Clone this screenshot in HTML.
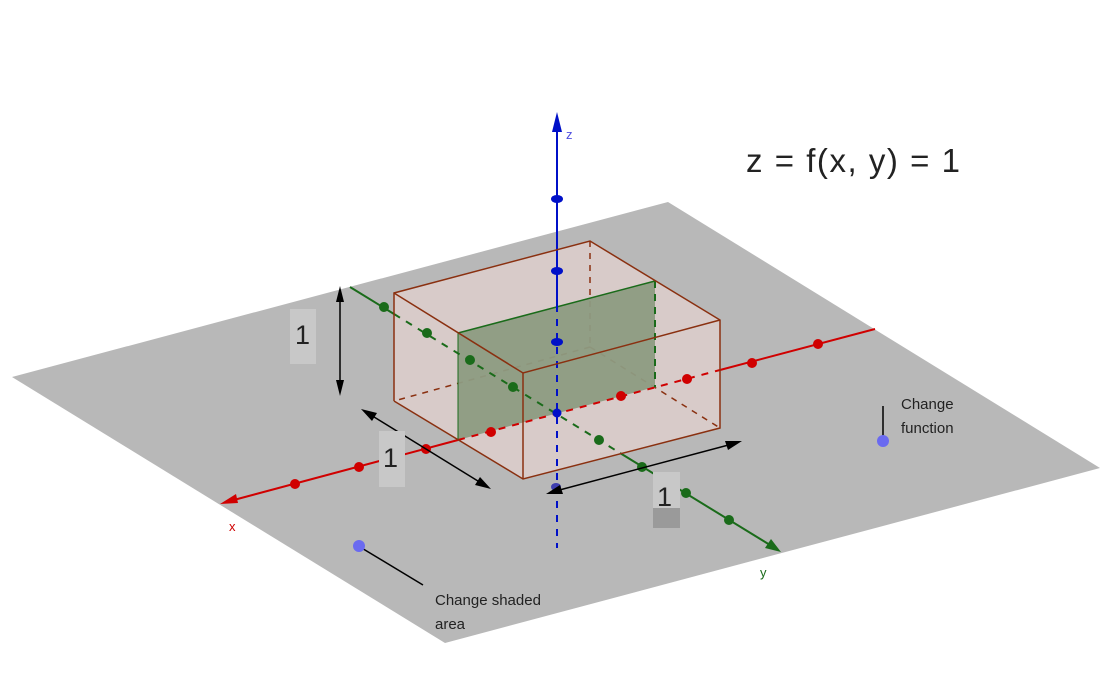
<!DOCTYPE html>
<html><head><meta charset="utf-8"><style>
html,body{margin:0;padding:0;background:#fff;width:1114px;height:677px;overflow:hidden}
svg{display:block}
</style></head><body>
<svg width="1114" height="677" viewBox="0 0 1114 677" xmlns="http://www.w3.org/2000/svg" font-family="Liberation Sans, sans-serif">
<polygon points="12,377 668,202 1100,468 445,643" fill="#b8b8b8"/>
<polygon points="394,293 590,241 720,320 720,428 523,479 394,401" fill="#d8cbc9"/>
<g stroke="#8a3010" stroke-width="1.5" stroke-dasharray="6,6" fill="none">
<line x1="590" y1="241" x2="590" y2="347"/>
<line x1="590" y1="347" x2="394" y2="401"/>
<line x1="590" y1="347" x2="720" y2="428"/>
</g>
<polygon points="458,333 655,281 655,387 458,440" fill="#8d9b82" opacity="0.95"/>
<line x1="458" y1="333" x2="655" y2="281" stroke="#1a6b1a" stroke-width="1.5"/>
<line x1="655" y1="281" x2="655" y2="387" stroke="#1a6b1a" stroke-width="2" stroke-dasharray="7,6"/>
<line x1="458" y1="333" x2="458" y2="440" stroke="#1a6b1a" stroke-width="1"/>
<line x1="230" y1="501" x2="458" y2="440" stroke="#d00000" stroke-width="2"/>
<line x1="458" y1="440" x2="720" y2="370" stroke="#d00000" stroke-width="2" stroke-dasharray="7,7"/>
<line x1="720" y1="370" x2="875" y2="329" stroke="#d00000" stroke-width="2"/>
<polygon points="220,504 236,494 238,503" fill="#d00000"/>
<line x1="350" y1="287" x2="394" y2="314" stroke="#1a6b1a" stroke-width="2"/>
<line x1="394" y1="314" x2="620" y2="453" stroke="#1a6b1a" stroke-width="2" stroke-dasharray="7,7"/>
<line x1="620" y1="453" x2="770" y2="545" stroke="#1a6b1a" stroke-width="2"/>
<polygon points="781,552 765,548 771,539" fill="#1a6b1a"/>
<line x1="557" y1="128" x2="557" y2="305" stroke="#0010c8" stroke-width="2"/>
<line x1="557" y1="305" x2="557" y2="548" stroke="#0010c8" stroke-width="2" stroke-dasharray="7,7"/>
<polygon points="557,112 552,132 562,132" fill="#0010c8"/>
<text x="566" y="139" font-size="13" fill="#5050e0">z</text>
<text x="229" y="531" font-size="13" fill="#d00000">x</text>
<text x="760" y="577" font-size="13" fill="#1a6b1a">y</text>
<g stroke="#8a3010" stroke-width="1.5" fill="none">
<polyline points="394,401 394,293 590,241 720,320 720,428 523,479 394,401"/>
<polyline points="394,293 523,373 720,320"/>
<line x1="523" y1="373" x2="523" y2="479"/>
</g>
<g fill="#d00000">
<circle cx="295" cy="484" r="5"/><circle cx="359" cy="467" r="5"/><circle cx="426" cy="449" r="5"/><circle cx="491" cy="432" r="5"/><circle cx="621" cy="396" r="5"/><circle cx="687" cy="379" r="5"/><circle cx="752" cy="363" r="5"/><circle cx="818" cy="344" r="5"/>
</g>
<g fill="#1a6b1a">
<circle cx="384" cy="307" r="5"/><circle cx="427" cy="333" r="5"/><circle cx="470" cy="360" r="5"/><circle cx="513" cy="387" r="5"/><circle cx="599" cy="440" r="5"/><circle cx="642" cy="467" r="5"/><circle cx="686" cy="493" r="5"/><circle cx="729" cy="520" r="5"/>
</g>
<g fill="#0010c8">
<ellipse cx="557" cy="199" rx="6" ry="4"/><ellipse cx="557" cy="271" rx="6" ry="4"/><ellipse cx="557" cy="342" rx="6" ry="4"/><circle cx="557" cy="413" r="4.5"/>
</g>
<ellipse cx="556" cy="487" rx="5" ry="4" fill="#4040b0"/>
<g stroke="#000" stroke-width="1.5">
<line x1="340" y1="292" x2="340" y2="392"/>
<line x1="366" y1="412" x2="486" y2="486"/>
<line x1="552" y1="492" x2="736" y2="443"/>
</g>
<g fill="#000">
<polygon points="340,286 336,302 344,302"/><polygon points="340,396 336,380 344,380"/>
<polygon points="361,409 377,413 372,421"/><polygon points="491,489 475,485 480,477"/>
<polygon points="546,494 560,485 563,494"/><polygon points="742,441 728,450 725,441"/>
</g>
<rect x="290" y="309" width="26" height="55" fill="#c8c8c8"/>
<text x="295" y="344" font-size="27" fill="#222">1</text>
<rect x="379" y="431" width="26" height="56" fill="#c8c8c8"/>
<text x="383" y="467" font-size="27" fill="#222">1</text>
<rect x="653" y="472" width="27" height="40" fill="#c8c8c8"/>
<rect x="653" y="508" width="27" height="20" fill="#9a9a9a"/>
<text x="657" y="506" font-size="27" fill="#222">1</text>
<line x1="360" y1="547" x2="423" y2="585" stroke="#000" stroke-width="1.5"/>
<circle cx="359" cy="546" r="6" fill="#6a6af0"/>
<text x="435" y="605" font-size="15" fill="#222">Change shaded</text>
<text x="435" y="629" font-size="15" fill="#222">area</text>
<line x1="883" y1="406" x2="883" y2="438" stroke="#000" stroke-width="1.5"/>
<circle cx="883" cy="441" r="6" fill="#6a6af0"/>
<text x="901" y="409" font-size="15" fill="#222">Change</text>
<text x="901" y="433" font-size="15" fill="#222">function</text>
<text x="746" y="172" font-size="33" fill="#222" textLength="214" lengthAdjust="spacing">z = f(x, y) = 1</text>
</svg>
</body></html>
